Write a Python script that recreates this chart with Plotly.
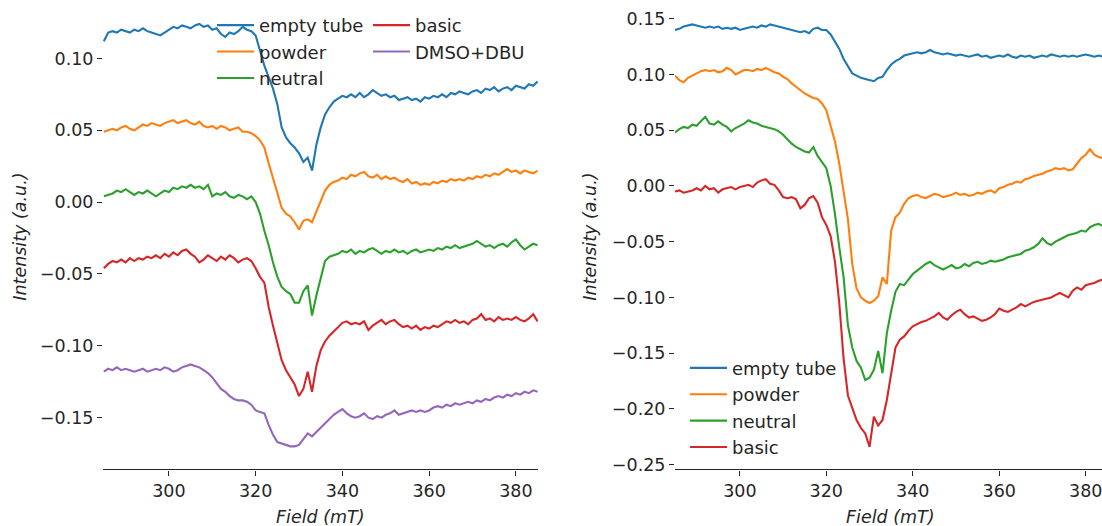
import plotly.graph_objects as go

field = list(range(285, 386))

left_empty = [0.112,0.118,0.119,0.118,0.120,0.119,0.118,0.120,0.119,0.121,0.119,0.118,0.117,0.116,0.118,
0.120,0.122,0.121,0.123,0.122,0.121,0.123,0.124,0.122,0.123,0.120,0.121,0.117,0.115,0.118,0.117,0.119,0.122,0.120,0.119,
0.116,0.106,0.095,0.087,0.079,0.068,0.052,0.045,0.041,0.038,0.034,0.028,0.031,0.022,0.040,0.052,0.061,0.066,0.070,0.072,
0.074,0.073,0.075,0.073,0.076,0.073,0.075,0.078,0.076,0.074,0.075,0.073,0.074,0.071,0.072,0.073,0.071,0.072,0.070,0.073,
0.072,0.074,0.073,0.075,0.073,0.076,0.075,0.077,0.076,0.075,0.077,0.078,0.076,0.079,0.078,0.080,0.077,0.079,0.080,0.078,
0.081,0.080,0.079,0.082,0.081,0.084]
left_powder = [0.049,0.050,0.051,0.050,0.052,0.053,0.051,0.050,0.052,0.054,0.053,0.055,0.054,0.053,0.055,
0.056,0.057,0.055,0.056,0.057,0.055,0.054,0.056,0.053,0.052,0.053,0.051,0.053,0.052,0.050,0.051,0.052,0.049,0.049,0.048,
0.046,0.043,0.038,0.027,0.017,0.006,-0.004,-0.008,-0.010,-0.014,-0.019,-0.013,-0.012,-0.014,-0.007,0.000,0.008,0.012,0.014,0.015,
0.017,0.016,0.019,0.018,0.020,0.021,0.018,0.017,0.019,0.016,0.018,0.016,0.017,0.015,0.014,0.016,0.013,0.014,0.012,0.013,
0.012,0.014,0.013,0.015,0.014,0.016,0.015,0.016,0.015,0.017,0.016,0.018,0.017,0.019,0.018,0.020,0.019,0.021,0.023,0.021,
0.022,0.020,0.022,0.021,0.020,0.022]
left_neutral = [0.004,0.005,0.006,0.008,0.007,0.009,0.007,0.005,0.007,0.006,0.008,0.006,0.004,0.006,0.008,
0.007,0.010,0.009,0.011,0.010,0.012,0.010,0.011,0.009,0.012,0.004,0.006,0.005,0.007,0.004,0.003,0.005,0.004,0.002,0.004,
0.000,-0.008,-0.020,-0.030,-0.042,-0.052,-0.059,-0.062,-0.064,-0.070,-0.070,-0.062,-0.058,-0.079,-0.065,-0.052,-0.041,-0.038,-0.037,-0.036,
-0.034,-0.035,-0.033,-0.036,-0.034,-0.035,-0.033,-0.032,-0.034,-0.036,-0.034,-0.035,-0.033,-0.035,-0.034,-0.036,-0.034,-0.033,-0.035,-0.034,
-0.033,-0.034,-0.032,-0.033,-0.031,-0.032,-0.030,-0.032,-0.031,-0.030,-0.029,-0.027,-0.029,-0.031,-0.030,-0.032,-0.030,-0.029,-0.031,-0.028,
-0.026,-0.030,-0.033,-0.031,-0.029,-0.030]
left_basic = [-0.046,-0.043,-0.041,-0.042,-0.040,-0.042,-0.039,-0.041,-0.039,-0.040,-0.038,-0.039,-0.037,-0.039,-0.036,
-0.038,-0.035,-0.037,-0.034,-0.033,-0.036,-0.038,-0.042,-0.040,-0.037,-0.039,-0.041,-0.038,-0.040,-0.037,-0.039,-0.042,-0.040,-0.039,-0.041,
-0.046,-0.052,-0.056,-0.073,-0.086,-0.098,-0.110,-0.117,-0.122,-0.127,-0.135,-0.130,-0.118,-0.132,-0.114,-0.103,-0.097,-0.093,-0.090,-0.087,
-0.084,-0.083,-0.085,-0.084,-0.085,-0.083,-0.089,-0.086,-0.084,-0.082,-0.085,-0.083,-0.082,-0.085,-0.087,-0.086,-0.088,-0.086,-0.089,-0.087,
-0.088,-0.086,-0.087,-0.085,-0.083,-0.084,-0.082,-0.084,-0.083,-0.085,-0.082,-0.081,-0.078,-0.082,-0.081,-0.083,-0.080,-0.082,-0.081,-0.082,
-0.080,-0.082,-0.083,-0.081,-0.078,-0.083]
left_dmso = [-0.118,-0.116,-0.117,-0.115,-0.117,-0.116,-0.117,-0.118,-0.117,-0.116,-0.118,-0.117,-0.116,-0.117,-0.115,
-0.116,-0.118,-0.117,-0.115,-0.114,-0.113,-0.114,-0.115,-0.117,-0.119,-0.122,-0.126,-0.130,-0.132,-0.135,-0.137,-0.138,-0.138,-0.139,-0.141,
-0.145,-0.146,-0.147,-0.155,-0.162,-0.167,-0.168,-0.169,-0.170,-0.170,-0.169,-0.165,-0.161,-0.163,-0.160,-0.157,-0.154,-0.151,-0.148,-0.146,
-0.144,-0.147,-0.149,-0.150,-0.149,-0.147,-0.150,-0.151,-0.149,-0.150,-0.148,-0.147,-0.145,-0.148,-0.147,-0.146,-0.145,-0.146,-0.145,-0.146,
-0.145,-0.143,-0.142,-0.143,-0.141,-0.142,-0.140,-0.141,-0.140,-0.139,-0.140,-0.138,-0.139,-0.137,-0.138,-0.136,-0.135,-0.136,-0.134,-0.135,
-0.133,-0.134,-0.132,-0.133,-0.131,-0.132]

right_empty = [0.140,0.141,0.143,0.144,0.145,0.144,0.143,0.142,0.143,0.142,0.143,0.141,0.142,0.141,0.142,
0.140,0.141,0.142,0.143,0.142,0.144,0.143,0.145,0.144,0.143,0.142,0.141,0.140,0.139,0.138,0.139,0.137,0.141,0.142,0.140,
0.140,0.136,0.130,0.123,0.114,0.107,0.101,0.099,0.097,0.096,0.095,0.094,0.097,0.098,0.104,0.109,0.112,0.114,0.117,0.118,
0.119,0.120,0.119,0.120,0.122,0.120,0.119,0.118,0.119,0.118,0.117,0.118,0.117,0.116,0.117,0.118,0.116,0.117,0.115,0.116,
0.117,0.116,0.118,0.116,0.115,0.117,0.116,0.117,0.115,0.116,0.117,0.116,0.118,0.117,0.116,0.117,0.116,0.117,0.116,0.117,
0.118,0.117,0.116,0.117,0.116,0.116]
right_powder = [0.099,0.095,0.093,0.097,0.099,0.101,0.103,0.104,0.103,0.104,0.102,0.103,0.106,0.104,0.100,
0.102,0.104,0.104,0.103,0.105,0.104,0.106,0.104,0.102,0.101,0.098,0.096,0.092,0.089,0.086,0.083,0.081,0.079,0.078,0.074,
0.068,0.055,0.040,0.020,-0.005,-0.030,-0.070,-0.092,-0.100,-0.103,-0.105,-0.103,-0.099,-0.082,-0.088,-0.040,-0.028,-0.024,-0.016,-0.011,
-0.009,-0.008,-0.010,-0.011,-0.009,-0.007,-0.008,-0.010,-0.009,-0.008,-0.006,-0.008,-0.007,-0.009,-0.008,-0.006,-0.007,-0.005,-0.004,-0.006,
-0.002,-0.001,0.001,0.002,0.004,0.003,0.006,0.007,0.009,0.010,0.011,0.013,0.014,0.016,0.015,0.016,0.014,0.015,0.020,0.025,
0.028,0.033,0.028,0.026,0.025,0.026]
right_neutral = [0.048,0.051,0.053,0.052,0.055,0.054,0.058,0.062,0.056,0.055,0.058,0.055,0.053,0.049,0.052,
0.054,0.056,0.059,0.057,0.056,0.054,0.053,0.052,0.051,0.049,0.046,0.042,0.038,0.035,0.033,0.031,0.030,0.035,0.027,0.022,
0.016,0.000,-0.025,-0.055,-0.082,-0.125,-0.145,-0.157,-0.163,-0.174,-0.172,-0.165,-0.148,-0.168,-0.132,-0.112,-0.095,-0.088,-0.089,-0.084,
-0.079,-0.076,-0.073,-0.070,-0.068,-0.071,-0.073,-0.075,-0.073,-0.071,-0.074,-0.073,-0.070,-0.072,-0.069,-0.068,-0.070,-0.069,-0.067,-0.068,
-0.067,-0.066,-0.064,-0.063,-0.062,-0.061,-0.058,-0.057,-0.055,-0.052,-0.047,-0.051,-0.053,-0.050,-0.048,-0.046,-0.044,-0.043,-0.042,-0.040,
-0.041,-0.037,-0.035,-0.034,-0.036,-0.040]
right_basic = [-0.005,-0.004,-0.006,-0.005,-0.004,-0.002,-0.004,0.000,-0.003,-0.002,-0.006,-0.003,-0.002,-0.001,-0.003,
-0.001,0.000,0.001,-0.001,0.003,0.005,0.006,0.002,0.001,-0.004,-0.010,-0.011,-0.010,-0.012,-0.020,-0.017,-0.011,-0.009,-0.015,-0.028,
-0.035,-0.045,-0.068,-0.105,-0.155,-0.188,-0.200,-0.210,-0.217,-0.222,-0.234,-0.207,-0.215,-0.210,-0.192,-0.170,-0.145,-0.138,-0.135,-0.130,
-0.126,-0.124,-0.122,-0.121,-0.119,-0.117,-0.114,-0.118,-0.120,-0.116,-0.113,-0.111,-0.115,-0.118,-0.117,-0.119,-0.121,-0.120,-0.118,-0.115,
-0.110,-0.112,-0.113,-0.111,-0.109,-0.106,-0.108,-0.106,-0.104,-0.103,-0.102,-0.101,-0.100,-0.098,-0.096,-0.098,-0.100,-0.094,-0.091,-0.093,
-0.089,-0.088,-0.087,-0.085,-0.084,-0.087]

x_ticks = [300, 320, 340, 360, 380]
left_yticks = [-0.15, -0.10, -0.05, 0.00, 0.05, 0.10]
right_yticks = [-0.25, -0.20, -0.15, -0.10, -0.05, 0.00, 0.05, 0.10, 0.15]

C = ['#1f77b4', '#ff7f0e', '#2ca02c', '#d62728', '#9467bd']
FONT = 'DejaVu Sans'
TXT = '#262626'

fig = go.Figure()
left = [('empty tube', left_empty, 'legend'), ('powder', left_powder, 'legend'),
        ('neutral', left_neutral, 'legend'), ('basic', left_basic, 'legend2'),
        ('DMSO+DBU', left_dmso, 'legend2')]
for i, (name, ys, lg) in enumerate(left):
    fig.add_trace(go.Scatter(x=field, y=ys, name=name, mode='lines', legend=lg,
                             line=dict(color=C[i], width=2.1), xaxis='x', yaxis='y'))
right = [('empty tube', right_empty), ('powder', right_powder),
         ('neutral', right_neutral), ('basic', right_basic)]
for i, (name, ys) in enumerate(right):
    fig.add_trace(go.Scatter(x=field, y=ys, name=name, mode='lines', legend='legend3',
                             line=dict(color=C[i], width=2.1), xaxis='x2', yaxis='y2'))

W, H = 1102, 526
def px(xp):
    return xp / W
def py(yp):
    return (H - yp) / H

xcommon = dict(showline=True, linecolor=TXT, linewidth=1.3, ticks='outside', ticklen=5,
               tickwidth=1.2, tickcolor=TXT, showgrid=False, zeroline=False,
               ticklabeloverflow='allow',
               tickvals=x_ticks, tickfont=dict(family=FONT, size=17.5, color=TXT))
ycommon = dict(showline=False, ticks='outside', ticklen=5, tickwidth=1.2, tickcolor=TXT,
               showgrid=False, zeroline=False, tickformat='.2f',
               tickfont=dict(family=FONT, size=17.5, color=TXT))

legcommon = dict(bgcolor='rgba(0,0,0,0)', borderwidth=0, font=dict(family=FONT, size=18, color=TXT),
                 xanchor='left', yanchor='top', itemwidth=37, tracegroupgap=0)

fig.update_layout(
    width=W, height=H, margin=dict(l=0, r=0, t=0, b=0),
    paper_bgcolor='white', plot_bgcolor='white',
    xaxis=dict(domain=[px(103), px(538)], range=[284.8, 385.1], anchor='y', **xcommon),
    yaxis=dict(domain=[py(474), py(3)], range=[-0.1861, 0.1386], anchor='x',
               tickvals=left_yticks, **ycommon),
    xaxis2=dict(domain=[px(675), 1.0], range=[285.0, 383.77], anchor='y2', **xcommon),
    yaxis2=dict(domain=[py(474), py(3)], range=[-0.2544, 0.1642], anchor='x2',
                tickvals=right_yticks, **ycommon),
    legend=dict(x=px(212), y=py(7), **legcommon),
    legend2=dict(x=px(368), y=py(7), **legcommon),
    legend3=dict(x=px(685), y=py(353), **legcommon),
    showlegend=True,
    annotations=[
        dict(text='<i>Field (mT)</i>', x=px(320.5), y=py(522), xref='paper', yref='paper',
             xanchor='center', yanchor='middle', showarrow=False,
             font=dict(family=FONT, size=17.5, color=TXT)),
        dict(text='<i>Field (mT)</i>', x=px(891), y=py(522), xref='paper', yref='paper',
             xanchor='center', yanchor='middle', showarrow=False,
             font=dict(family=FONT, size=17.5, color=TXT)),
        dict(text='<i>Intensity (a.u.)</i>', x=px(20), y=py(239), xref='paper', yref='paper',
             xanchor='center', yanchor='middle', showarrow=False, textangle=-90,
             font=dict(family=FONT, size=17.5, color=TXT)),
        dict(text='<i>Intensity (a.u.)</i>', x=px(590), y=py(239), xref='paper', yref='paper',
             xanchor='center', yanchor='middle', showarrow=False, textangle=-90,
             font=dict(family=FONT, size=17.5, color=TXT)),
    ],
)

fig.write_html('out.html')
